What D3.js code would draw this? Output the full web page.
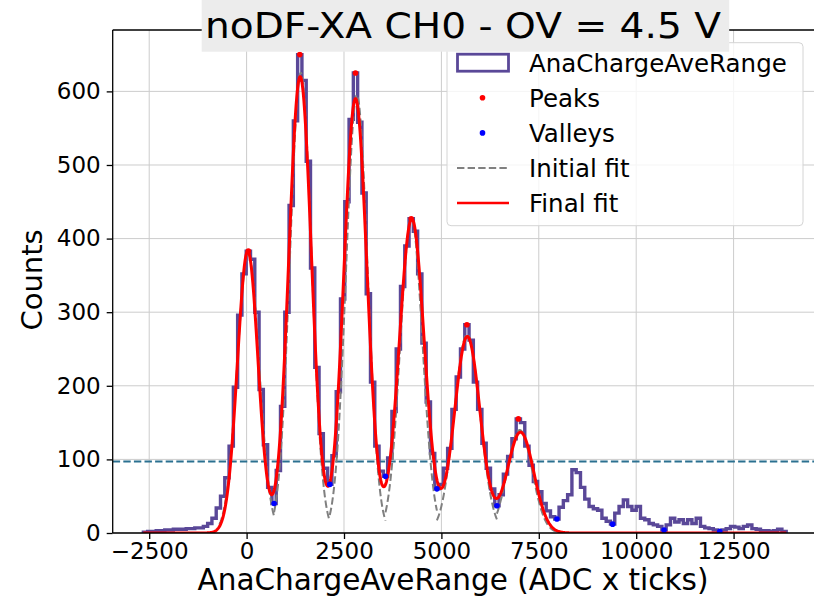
<!DOCTYPE html>
<html>
<head>
<meta charset="utf-8">
<script src="https://cdn.jsdelivr.net/npm/d3@7"></script>
<style>
  body { margin: 0; background: #fff; }
  svg { display: block; }
  text { font-family: "DejaVu Sans", sans-serif; fill: #000; }
</style>
</head>
<body>
<div id="chart"></div>
<script>
// Histogram bins (ADC x ticks) and counts
const binStart = -2650;
const binWidth = 110;
const counts = [
  1, 2, 2, 3, 3, 4, 4, 5, 5, 5, 6, 6, 7, 7, 9, 13, 20,
  34, 50, 75, 118, 198, 296, 352, 383, 372, 300, 195, 120, 62, 40,
  85, 172, 300, 445, 560, 650, 615, 505, 360, 225, 135, 88, 66,
  105, 192, 318, 450, 562, 625, 558, 462, 325, 205, 118, 84, 77,
  102, 165, 250, 335, 390, 427, 410, 352, 258, 178, 108, 60,
  66, 88, 115, 168, 212, 250, 283, 262, 205, 168, 122, 88, 60, 37,
  52, 80, 104, 128, 155, 150, 118, 92, 70, 56, 40, 30, 22, 19,
  35, 44, 52, 86, 82, 62, 46, 36, 33, 31, 20, 16, 12,
  27, 36, 45, 36, 31, 36, 20, 18, 13, 11, 9, 4,
  11, 20, 15, 18, 13, 18, 13, 20, 9, 7, 6, 4, 2,
  4, 6, 9, 8, 6, 9, 11, 6, 5, 3, 3, 2, 3, 5, 2
];

// Peaks and valleys found
const peakX = [45, 1365, 2795, 4225, 5655, 6975];
const peakY = [383, 650, 625, 427, 283, 155];
const valleyX = [705, 2135, 3565, 4885, 6425, 7965, 9395, 10715, 12145];
const valleyY = [40, 66, 77, 60, 37, 19, 12, 4, 2];

// Gaussian parameters of the fits
const initMean = [40, 1390, 2830, 4230, 5660, 7010];
const initAmp = [380, 625, 595, 427, 270, 140];
const initSigma = [280, 275, 275, 285, 330, 320];
const initFrom = [-700, 705, 2135, 3565, 4885, 6425];
const initTo = [705, 2135, 3565, 4885, 6425, 7965];

const fitMean = [30, 1375, 2795, 4240, 5665, 7030];
const fitAmp = [383, 620, 590, 427, 267, 137];
const fitSigma = [265, 290, 295, 320, 330, 340];

const threshold = 97;

const xTicks = [-2500, 0, 2500, 5000, 7500, 10000, 12500];
const yTicks = [0, 100, 200, 300, 400, 500, 600];

// Layout
const width = 814;
const height = 598;
const pLeft = 112.7, pRight = 817, pTop = 30, pBottom = 533;

const svg = d3.select("#chart").append("svg")
    .attr("width", width)
    .attr("height", height);

const x = d3.scaleLinear().domain([-3437, 14641]).range([pLeft, pRight]);
const y = d3.scaleLinear().domain([0, 683.4]).range([pBottom, pTop]);

svg.append("clipPath").attr("id", "plot")
  .append("rect")
    .attr("x", pLeft).attr("y", pTop)
    .attr("width", pRight - pLeft).attr("height", pBottom - pTop);

// Grid
const grid = svg.append("g").attr("stroke", "#cccccc").attr("stroke-width", 1);
grid.selectAll(".gx").data(xTicks).enter().append("line")
    .attr("x1", d => x(d)).attr("x2", d => x(d))
    .attr("y1", pTop).attr("y2", pBottom);
grid.selectAll(".gy").data(yTicks).enter().append("line")
    .attr("x1", pLeft).attr("x2", pRight)
    .attr("y1", d => y(d)).attr("y2", d => y(d));

const plot = svg.append("g").attr("clip-path", "url(#plot)");

// Threshold line
plot.append("line")
    .attr("x1", pLeft).attr("x2", pRight)
    .attr("y1", y(threshold)).attr("y2", y(threshold))
    .attr("stroke", "#2b7090")
    .attr("stroke-width", 2)
    .attr("stroke-dasharray", "7.4,3.2");

// Step histogram
const edges = counts.map((c, i) => binStart + i * binWidth);
let histPath = `M${x(binStart)},${y(0)}`;
counts.forEach((c, i) => {
    histPath += `V${y(c)}H${x(edges[i] + binWidth)}`;
});
histPath += `V${y(0)}`;
plot.append("path")
    .attr("d", histPath)
    .attr("fill", "none")
    .attr("stroke", "#5a4898")
    .attr("stroke-width", 3.4)
    .attr("stroke-linejoin", "miter");

// Fit curves
const gauss = (v, m, a, s) => a * Math.exp(-((v - m) * (v - m)) / (2 * s * s));
const line = d3.line().x(d => x(d[0])).y(d => y(d[1]));

initMean.forEach((m, k) => {
    const pts = d3.range(initFrom[k], initTo[k] + 1, 10)
        .map(v => [v, gauss(v, m, initAmp[k], initSigma[k])]);
    plot.append("path")
        .attr("d", line(pts))
        .attr("fill", "none")
        .attr("stroke", "#808080")
        .attr("stroke-width", 2)
        .attr("stroke-dasharray", "7.4,3.2");
});

const histEnd = binStart + counts.length * binWidth;
const fitPts = d3.range(binStart, histEnd + 1, 10).map(v =>
    [v, d3.sum(fitMean, (m, k) => gauss(v, m, fitAmp[k], fitSigma[k]))]);
plot.append("path")
    .attr("d", line(fitPts))
    .attr("fill", "none")
    .attr("stroke", "#ff0000")
    .attr("stroke-width", 3);

// Points
plot.selectAll(".peak").data(peakX).enter().append("circle")
    .attr("cx", d => x(d)).attr("cy", (d, i) => y(peakY[i]))
    .attr("r", 2.8).attr("fill", "#ff0000");
plot.selectAll(".valley").data(valleyX).enter().append("circle")
    .attr("cx", d => x(d)).attr("cy", (d, i) => y(valleyY[i]))
    .attr("r", 2.8).attr("fill", "#0000ff");

// Axes
const fmt = d3.format("d");
const xAxis = svg.append("g")
    .attr("transform", `translate(0,${pBottom})`)
    .call(d3.axisBottom(x).tickValues(xTicks).tickFormat(fmt).tickSize(6).tickPadding(4));
const yAxis = svg.append("g")
    .attr("transform", `translate(${pLeft},0)`)
    .call(d3.axisLeft(y).tickValues(yTicks).tickFormat(fmt).tickSize(6).tickPadding(6));
[xAxis, yAxis].forEach(a => {
    a.selectAll("text").style("font-size", "23px").attr("fill", "#000");
    a.select(".domain").attr("stroke", "#000").attr("stroke-width", 1.3);
    a.selectAll(".tick line").attr("stroke", "#000").attr("stroke-width", 1.3);
});
yAxis.select(".domain").attr("d", `M0,${pBottom}V${pTop}`);
xAxis.select(".domain").attr("d", `M${pLeft},0H${pRight}`);
svg.append("line")
    .attr("x1", pLeft).attr("x2", pRight)
    .attr("y1", pTop).attr("y2", pTop)
    .attr("stroke", "#000").attr("stroke-width", 1.3);

svg.append("text")
    .attr("x", 453).attr("y", 590)
    .attr("text-anchor", "middle")
    .style("font-size", "29.5px")
    .text("AnaChargeAveRange (ADC x ticks)");

svg.append("text")
    .attr("transform", "translate(42,280) rotate(-90)")
    .attr("text-anchor", "middle")
    .style("font-size", "29px")
    .text("Counts");

// Legend
const lg = svg.append("g");
lg.append("rect")
    .attr("x", 447).attr("y", 42.7).attr("width", 356).attr("height", 183)
    .attr("rx", 4)
    .attr("fill", "#fff").attr("fill-opacity", 0.8)
    .attr("stroke", "#d4d4d4").attr("stroke-width", 1);
const rows = ["AnaChargeAveRange", "Peaks", "Valleys", "Initial fit", "Final fit"];
const rowY = d => 62.7 + d * 35.1;
rows.forEach((t, i) => {
    lg.append("text")
        .attr("x", 529).attr("y", rowY(i))
        .attr("dy", "0.36em")
        .style("font-size", "24.5px")
        .text(t);
});
lg.append("rect")
    .attr("x", 457.5).attr("y", rowY(0) - 8.5).attr("width", 51).attr("height", 17)
    .attr("fill", "none").attr("stroke", "#5a4898").attr("stroke-width", 2.8);
lg.append("circle").attr("cx", 482.5).attr("cy", rowY(1)).attr("r", 2.8).attr("fill", "#ff0000");
lg.append("circle").attr("cx", 482.5).attr("cy", rowY(2)).attr("r", 2.8).attr("fill", "#0000ff");
lg.append("line")
    .attr("x1", 457).attr("x2", 509).attr("y1", rowY(3)).attr("y2", rowY(3))
    .attr("stroke", "#808080").attr("stroke-width", 2).attr("stroke-dasharray", "7.4,3.2");
lg.append("line")
    .attr("x1", 457).attr("x2", 509).attr("y1", rowY(4)).attr("y2", rowY(4))
    .attr("stroke", "#ff0000").attr("stroke-width", 2.5);

// Title with grey box
svg.append("rect")
    .attr("x", 201.7).attr("y", 0).attr("width", 527.5).attr("height", 51.7)
    .attr("fill", "#ececec");
svg.append("text")
    .attr("x", 205).attr("y", 38)
    .attr("textLength", 516)
    .attr("lengthAdjust", "spacingAndGlyphs")
    .style("font-size", "35px")
    .text("noDF-XA CH0 - OV = 4.5 V");
</script>
</body>
</html>
